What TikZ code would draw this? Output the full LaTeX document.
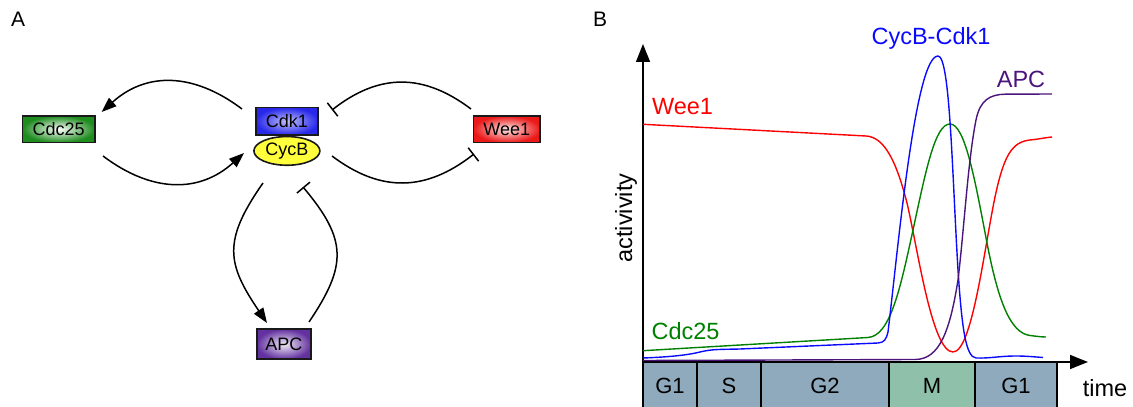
\documentclass[tikz,border=0pt]{standalone}
\usepackage{fontspec}
\setmainfont{Liberation Sans}
\usetikzlibrary{arrows.meta,shapes.geometric}

\definecolor{cdcgreen}{RGB}{30,140,30}
\definecolor{weered}{RGB}{235,25,25}
\definecolor{cdkblue}{RGB}{40,40,235}
\definecolor{apcpurple}{RGB}{100,50,160}
\definecolor{cycyellow}{RGB}{255,255,60}
\definecolor{lnred}{RGB}{255,0,0}
\definecolor{lnblue}{RGB}{10,10,255}
\definecolor{lngreen}{RGB}{0,128,0}
\definecolor{lnpurple}{RGB}{75,20,125}
\definecolor{phaseG}{RGB}{143,170,188}
\definecolor{phaseM}{RGB}{143,192,170}

\tikzset{
  protein/.style={draw=black!90, line width=1.6pt, inner sep=0pt, outer sep=0pt,
    shading=radial, font=\fontsize{18}{20}\selectfont},
  act/.style={line width=1.5pt, -{Triangle[length=15pt,width=11pt]}},
  inh/.style={line width=1.5pt, -{Bar[width=17pt,line width=1.5pt]}},
  curve/.style={line width=1.4pt, line join=round},
  axisline/.style={line width=1.5pt, -{Triangle[length=18pt,width=14pt]}},
  phasebox/.style={draw=black, line width=1.2pt},
  phaselabel/.style={anchor=base, inner sep=0pt, font=\fontsize{22}{24}\selectfont},
  bigtext/.style={anchor=base, inner sep=0pt, font=\fontsize{23.5}{26}\selectfont},
  panel/.style={anchor=base west, inner sep=0pt, font=\fontsize{21}{24}\selectfont}
}

\begin{document}
\begin{tikzpicture}[x=1pt,y=1pt]
\useasboundingbox (0,0) rectangle (1133,407);

% ---------- panel A: regulatory network ----------
\node[panel] (labA) at (11,380.3) {A};

\node[draw=black!90, line width=1.6pt, ellipse, inner sep=0pt, outer sep=0pt,
      minimum width=66pt, minimum height=28.7pt, fill=cycyellow,
      font=\fontsize{18}{20}\selectfont] (cycb) at (286.9,256.1) {CycB};
\node[protein, minimum width=62.4pt, minimum height=27.4pt,
      inner color=cdkblue!30!white, outer color=cdkblue] (cdk) at (287,285.8) {Cdk1};
\node[protein, minimum width=72.4pt, minimum height=26.7pt,
      inner color=white, outer color=cdcgreen] (cdc) at (58.7,277.8) {Cdc25};
\node[protein, minimum width=66.7pt, minimum height=26.7pt,
      inner color=weered!10!white, outer color=weered] (wee) at (506.8,277.8) {Wee1};
\node[protein, minimum width=54pt, minimum height=30pt,
      inner color=apcpurple!10!white, outer color=apcpurple] (apc) at (283.9,62.8) {APC};

% Cdk1 activates Cdc25, Cdc25 activates Cdk1
\draw[act] ([shift={(-45,12.2)}]cdk.center) to[out=143,in=42,looseness=1.1]
           ([shift={(42.9,17.2)}]cdc.center);
\draw[act] ([shift={(44.3,-26.8)}]cdc.center) to[out=-37,in=-138,looseness=1.1]
           ([shift={(-42.9,-2.1)}]cycb.center);
% Wee1 inhibits Cdk1, Cdk1 inhibits Wee1
\draw[inh] ([shift={(-35.8,20.2)}]wee.center) to[out=143,in=38,looseness=1.1]
           ([shift={(45,11.2)}]cdk.center);
\draw[inh] ([shift={(45.1,-5.1)}]cycb.center) to[out=-37,in=-142,looseness=1.1]
           ([shift={(-32.8,-24.8)}]wee.center);
% Cdk1 activates APC, APC inhibits Cdk1
\draw[act] ([shift={(-23.9,-32.1)}]cycb.center) to[out=-125,in=124,looseness=1.3]
           ([shift={(-16.9,21.2)}]apc.center);
\draw[inh] ([shift={(25.1,22.2)}]apc.center) to[out=56,in=-50,looseness=1.3]
           ([shift={(16.1,-36.1)}]cycb.center);

% ---------- panel B: activity time courses ----------
\begin{scope}[yshift=407pt,y=-1pt]
  \node[panel] (labB) at (593,26.7) {B};

  % cell-cycle phase bar
  \path[phasebox, fill=phaseG] (643,362) rectangle (697,412);
  \path[phasebox, fill=phaseG] (697,362) rectangle (761,412);
  \path[phasebox, fill=phaseG] (761,362) rectangle (889,412);
  \path[phasebox, fill=phaseM] (889,362) rectangle (975,412);
  \path[phasebox, fill=phaseG] (975,362) rectangle (1057,412);
  \node[phaselabel] (pG1a) at (670,394) {G1};
  \node[phaselabel] (pS)   at (729,394) {S};
  \node[phaselabel] (pG2)  at (825,394) {G2};
  \node[phaselabel] (pM)   at (932,394) {M};
  \node[phaselabel] (pG1b) at (1016,394) {G1};

  % axes
  \draw[axisline] (643,362) -- (643,44);
  \draw[axisline] (643,362) -- (1088,362);
  \node[bigtext, rotate=90, anchor=center] (ylab) at (626,218) {activivity};
  \node[bigtext] (xlab) at (1105,396.5) {time};

  % Wee1
  \draw[curve, lnred] (643,124.3) -- (866,136)
    .. controls (884,137) and (896,160) .. (907,203)
    .. controls (918,250) and (932,352) .. (953,352)
    .. controls (972,352) and (984,250) .. (995,197)
    .. controls (1004,155) and (1012,142) .. (1030,140)
    .. controls (1040,139) and (1046,137.5) .. (1052,137);
  % Cdc25
  \draw[curve, lngreen] (643,350.7) -- (868,337.5)
    .. controls (890,336) and (900,290) .. (913,230)
    .. controls (926,170) and (935,124) .. (950,124)
    .. controls (965,124) and (975,180) .. (987,243)
    .. controls (998,300) and (1010,333) .. (1030,335.5)
    .. controls (1038,336.5) and (1042,337) .. (1046,337);
  % CycB-Cdk1
  \draw[curve, lnblue] (643,358)
    .. controls (670,357) and (688,355) .. (700,352)
    .. controls (712,349) and (720,349.5) .. (740,349) -- (878,343)
    .. controls (884,342.5) and (886,340) .. (888,332)
    .. controls (898,250) and (915,56) .. (938,56)
    .. controls (950,56) and (952,170) .. (958,270)
    .. controls (962,330) and (966,357) .. (976,358)
    .. controls (990,358.5) and (1000,356) .. (1015,356)
    .. controls (1028,356) and (1035,357) .. (1043,357.5);
  % APC
  \draw[curve, lnpurple] (643,360.5) -- (915,359.5)
    .. controls (940,359.5) and (950,330) .. (958,280)
    .. controls (964,230) and (968,160) .. (976,120)
    .. controls (980,100) and (990,94.5) .. (1005,94.2) -- (1052,94);

  % curve labels
  \node[bigtext, text=lnblue]   (tCdk)  at (931,45)    {CycB-Cdk1};
  \node[bigtext, text=lnpurple] (tAPC)  at (1021,88)   {APC};
  \node[bigtext, text=lnred]    (tWee)  at (682.5,115) {Wee1};
  \node[bigtext, text=lngreen]  (tCdc)  at (685.5,340) {Cdc25};
\end{scope}
\end{tikzpicture}
\end{document}
